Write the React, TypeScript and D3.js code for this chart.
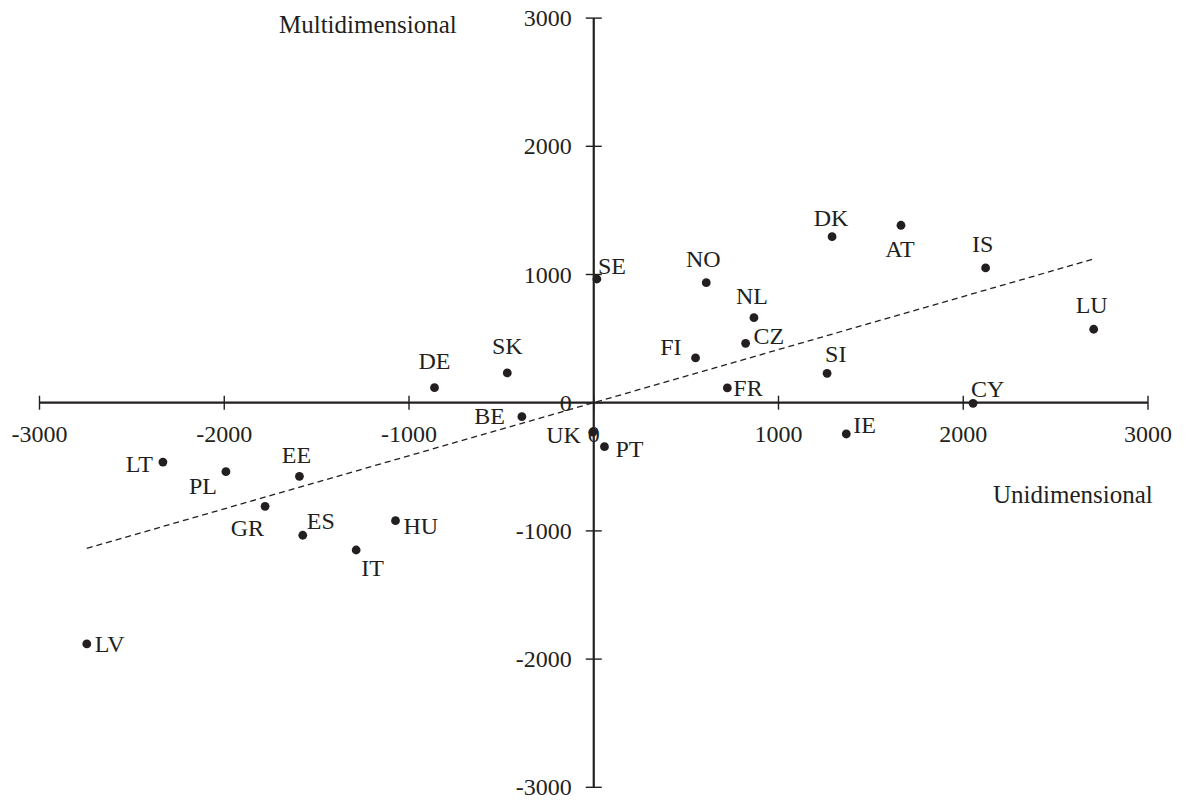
import React from "react";
import * as d3 from "d3";

const countries = ["LT","PL","EE","GR","ES","HU","IT","LV","DE","SK","SE","NO","NL","CZ","FI","FR","BE","UK","PT","IE","CY","DK","AT","IS","LU","SI"];
const uniValues = [-2332,-1991,-1593,-1779,-1575,-1073,-1286,-2744,-862,-468,17,609,867,822,551,723,-389,-5,58,1367,2053,1290,1663,2121,2706,1263];
const multiValues = [-463,-538,-574,-808,-1034,-920,-1149,-1882,117,232,965,936,663,463,349,115,-109,-230,-343,-244,-5,1295,1384,1051,573,229];
const tickValues = [-3000,-2000,-1000,0,1000,2000,3000];
const trendX = [-2744, 2706];
const trendY = [-1136, 1121];

// label placement: [anchor, dx, dy]
const labelPlacement: Record<string, [string, number, number]> = {
  LT: ["end", -10, 10], PL: ["end", -9, 22], EE: ["middle", -3, -13], GR: ["end", -1, 30],
  ES: ["start", 4, -6], HU: ["start", 8, 13], IT: ["start", 5, 26], LV: ["start", 8, 8],
  DE: ["middle", 0, -19], SK: ["middle", 0, -19], SE: ["start", 1, -5], NO: ["middle", -3, -16],
  NL: ["middle", -2, -14], CZ: ["start", 8, 1], FI: ["end", -14, -3], FR: ["start", 6, 8],
  BE: ["end", -17, 7], UK: ["end", -12, 11], PT: ["start", 11, 10], IE: ["start", 7, -1],
  CY: ["start", -2, -6], DK: ["middle", -1, -11], AT: ["middle", -1, 32], IS: ["middle", -3, -16],
  LU: ["middle", -2, -16], SI: ["start", -2, -11],
};

const W = 1187, H = 801;
const ink = "#231f20";
const font = "'Liberation Serif', 'Times New Roman', serif";

export default function App() {
  const x = d3.scaleLinear().domain([-3000, 3000]).range([39.5, 1148]);
  const y = d3.scaleLinear().domain([-3000, 3000]).range([787.3, 18.1]);
  const x0 = x(0), y0 = y(0);
  const line = d3.line<number>().x((_, i) => x(trendX[i])).y((_, i) => y(trendY[i]));

  return (
    <svg width={W} height={H} style={{ position: "absolute", left: 0, top: 0, background: "#fff" }} fontFamily={font}>
      <rect width={W} height={H} fill="#fff" />
      {/* axes */}
      <line x1={x(-3000)} x2={x(3000)} y1={y0} y2={y0} stroke={ink} strokeWidth={2.2} />
      <line x1={x0} x2={x0} y1={y(3000)} y2={y(-3000)} stroke={ink} strokeWidth={2.2} />
      {tickValues.map((t) => (
        <g key={"xt" + t}>
          <line x1={x(t)} x2={x(t)} y1={y0 - 7} y2={y0 + 7} stroke={ink} strokeWidth={1.4} />
          <text x={x(t)} y={y0 + 39} textAnchor="middle" fontSize={24} fill={ink}>{t}</text>
        </g>
      ))}
      {tickValues.map((t) => (
        <g key={"yt" + t}>
          <line x1={x0 - 8} x2={x0 + 8} y1={y(t)} y2={y(t)} stroke={ink} strokeWidth={1.4} />
          <text x={x0 - 22} y={y(t) + 8} textAnchor="end" fontSize={24} fill={ink}>{t}</text>
        </g>
      ))}
      {/* trend line */}
      <path d={line(trendX) || ""} fill="none" stroke={ink} strokeWidth={1.3} strokeDasharray="6,4" />
      {/* points */}
      {countries.map((c, i) => {
        const [anchor, dx, dy] = labelPlacement[c];
        const px = x(uniValues[i]), py = y(multiValues[i]);
        return (
          <g key={c}>
            <circle cx={px} cy={py} r={4.4} fill={ink} />
            <text x={px + dx} y={py + dy} textAnchor={anchor as any} fontSize={24} fill={ink}>{c}</text>
          </g>
        );
      })}
      {/* axis titles */}
      <text x={279} y={33} fontSize={25} fill={ink}>Multidimensional</text>
      <text x={993} y={503} fontSize={25} fill={ink}>Unidimensional</text>
    </svg>
  );
}
